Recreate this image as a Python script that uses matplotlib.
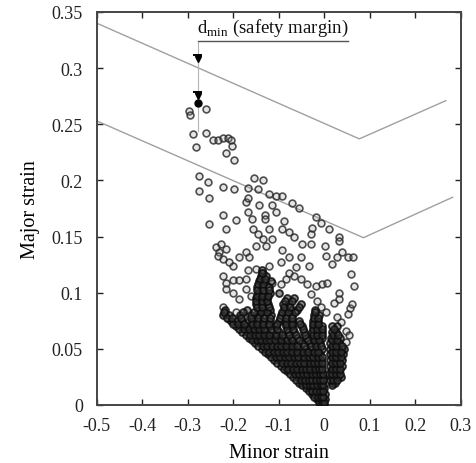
import matplotlib
matplotlib.use("Agg")
import matplotlib.pyplot as plt

plt.rcParams['font.family'] = ['Liberation Serif', 'DejaVu Serif']
plt.rcParams['mathtext.fontset'] = 'custom'
plt.rcParams['mathtext.rm'] = 'Liberation Serif'

# Forming limit curves (upper = FLC, lower = FLC with safety margin)
flc_upper_x = [-0.5, 0.077, 0.267]
flc_upper_y = [0.340, 0.237, 0.271]
flc_lower_x = [-0.5, 0.086, 0.282]
flc_lower_y = [0.253, 0.149, 0.185]

# Sparse strain points (minor, major)
sparse_x = [-0.298, -0.295, -0.260, -0.289, -0.261, -0.282, -0.245, -0.234, -0.223, -0.212,
            -0.205, -0.203, -0.215, -0.198, -0.275, -0.256, -0.275, -0.253, -0.223, -0.199,
            -0.253, -0.222, -0.217, -0.194, -0.173, -0.168, -0.168, -0.155, -0.135, -0.146,
            -0.122, -0.106, -0.092, -0.071, -0.055, -0.018, -0.007, 0.011, 0.033, 0.033,
            0.040, 0.051, 0.064, 0.059, 0.066, 0.057, 0.051, 0.060,
            -0.168, -0.159, -0.143, -0.131, -0.131, -0.114, -0.106, -0.088, -0.093, -0.077,
            -0.066, -0.048, -0.029, -0.026, -0.029, 0.002, 0.003, 0.029, 0.018,
            -0.157, -0.146, -0.135, -0.121, -0.114, -0.128, -0.150, -0.172, -0.165, -0.187,
            -0.201, -0.209, -0.231, -0.238, -0.227, -0.216, -0.234, -0.223,
            -0.092, -0.077, -0.095, -0.052, -0.034, -0.063, -0.077, -0.084, -0.095, -0.066,
            -0.052, -0.037, -0.018, -0.004, 0.007, -0.029, -0.015, -0.007, 0.003, 0.033,
            0.033, 0.022, 0.029, 0.037, 0.048, 0.055, 0.048, 0.040,
            -0.223, -0.216, -0.201, -0.187, -0.172, -0.168, -0.150, -0.135, -0.121, -0.114,
            -0.216, -0.172, -0.201, -0.187, -0.161, -0.143, -0.128,
            -0.223, -0.219, -0.209, -0.194, -0.179, -0.165, -0.150, -0.157, -0.143]
sparse_y = [0.262, 0.258, 0.264, 0.241, 0.242, 0.230, 0.236, 0.236, 0.238, 0.238,
            0.236, 0.231, 0.224, 0.218, 0.204, 0.199, 0.191, 0.184, 0.194, 0.192,
            0.161, 0.169, 0.157, 0.165, 0.181, 0.184, 0.193, 0.202, 0.200, 0.192,
            0.188, 0.186, 0.186, 0.180, 0.175, 0.167, 0.162, 0.157, 0.150, 0.146,
            0.136, 0.132, 0.132, 0.117, 0.106, 0.086, 0.081, 0.090,
            0.172, 0.166, 0.178, 0.169, 0.166, 0.178, 0.172, 0.164, 0.157, 0.154,
            0.150, 0.143, 0.152, 0.158, 0.143, 0.142, 0.133, 0.132, 0.126,
            0.157, 0.152, 0.148, 0.157, 0.148, 0.142, 0.142, 0.136, 0.132, 0.132,
            0.124, 0.127, 0.136, 0.141, 0.143, 0.139, 0.133, 0.130,
            0.138, 0.132, 0.127, 0.132, 0.124, 0.123, 0.118, 0.112, 0.108, 0.115,
            0.112, 0.108, 0.106, 0.108, 0.109, 0.099, 0.093, 0.087, 0.083, 0.100,
            0.094, 0.091, 0.078, 0.074, 0.066, 0.062, 0.056, 0.050,
            0.115, 0.109, 0.111, 0.111, 0.112, 0.120, 0.121, 0.118, 0.124, 0.109,
            0.103, 0.103, 0.100, 0.094, 0.097, 0.100, 0.094,
            0.087, 0.081, 0.077, 0.083, 0.078, 0.074, 0.069, 0.077, 0.081]

# Dense cloud near the origin, read row by row (major strain level -> minor strains)
dense_levels = [0.000, 0.005, 0.010, 0.015, 0.020, 0.025, 0.030, 0.035, 0.040, 0.045,
                0.050, 0.055, 0.060, 0.065, 0.070, 0.075, 0.080, 0.085, 0.090, 0.095,
                0.100, 0.105, 0.110, 0.115, 0.120]
dense_minor = [
    [-0.010, -0.004, 0.0],
    [-0.016, -0.010, -0.004, 0.002],
    [-0.028, -0.020, -0.012, -0.005, 0.002],
    [-0.040, -0.032, -0.024, -0.016, -0.008, 0.0],
    [-0.055, -0.046, -0.038, -0.030, -0.022, -0.014, -0.006, 0.016, 0.024],
    [-0.068, -0.058, -0.049, -0.040, -0.031, -0.022, -0.014, -0.006, 0.014, 0.022, 0.030, 0.036],
    [-0.082, -0.072, -0.062, -0.052, -0.043, -0.034, -0.025, -0.016, -0.008, 0.014, 0.022, 0.032],
    [-0.096, -0.086, -0.076, -0.066, -0.056, -0.047, -0.036, -0.026, -0.017, -0.008, 0.012, 0.021, 0.030, 0.038],
    [-0.110, -0.100, -0.090, -0.080, -0.070, -0.060, -0.050, -0.038, -0.028, -0.018, -0.008, 0.012, 0.021, 0.030, 0.040],
    [-0.124, -0.114, -0.104, -0.094, -0.084, -0.074, -0.064, -0.052, -0.040, -0.030, -0.020, -0.010, 0.012, 0.020, 0.030, 0.042],
    [-0.138, -0.128, -0.118, -0.108, -0.098, -0.088, -0.078, -0.066, -0.054, -0.040, -0.026, -0.016, -0.006, 0.012, 0.020, 0.031, 0.043],
    [-0.152, -0.142, -0.132, -0.122, -0.112, -0.102, -0.090, -0.078, -0.066, -0.050, -0.032, -0.020, -0.010, 0.013, 0.022, 0.033],
    [-0.166, -0.156, -0.146, -0.136, -0.126, -0.114, -0.100, -0.088, -0.074, -0.060, -0.040, -0.024, -0.014, -0.004, 0.014, 0.024, 0.035],
    [-0.180, -0.170, -0.160, -0.150, -0.140, -0.128, -0.114, -0.100, -0.080, -0.066, -0.044, -0.026, -0.016, -0.006, 0.016, 0.026],
    [-0.194, -0.184, -0.172, -0.160, -0.148, -0.136, -0.122, -0.106, -0.084, -0.070, -0.050, -0.024, -0.014, -0.004, 0.018, 0.028],
    [-0.206, -0.194, -0.180, -0.160, -0.146, -0.134, -0.120, -0.100, -0.086, -0.072, -0.056, -0.024, -0.014],
    [-0.222, -0.210, -0.186, -0.162, -0.144, -0.132, -0.118, -0.096, -0.084, -0.070, -0.022, -0.012],
    [-0.218, -0.170, -0.146, -0.134, -0.120, -0.088, -0.074, -0.060, -0.020],
    [-0.150, -0.138, -0.124, -0.090, -0.078, -0.052],
    [-0.150, -0.138, -0.126, -0.082, -0.066],
    [-0.146, -0.134, -0.120, -0.100],
    [-0.148, -0.136, -0.122],
    [-0.144, -0.132, -0.118],
    [-0.140, -0.128],
    [-0.136],
]
# In-between rows of the dense cloud
dense_levels_mid = [0.0025, 0.0075, 0.0125, 0.0175, 0.0225, 0.0275, 0.0325, 0.0375, 0.0425,
                    0.0475, 0.0525, 0.0575, 0.0625, 0.0675, 0.0725, 0.0775, 0.0825, 0.0875,
                    0.0925, 0.0975, 0.1025, 0.1075, 0.1125, 0.1175]
dense_minor_mid = [
    [-0.012, -0.006, 0.0],
    [-0.022, -0.014, -0.008, -0.002],
    [-0.034, -0.026, -0.018, -0.010, -0.003],
    [-0.048, -0.040, -0.032, -0.024, -0.016, -0.008, -0.002, 0.018],
    [-0.062, -0.052, -0.043, -0.034, -0.026, -0.018, -0.010, -0.003, 0.012, 0.020, 0.028],
    [-0.075, -0.065, -0.056, -0.046, -0.037, -0.028, -0.019, -0.010, -0.003, 0.010, 0.018, 0.026, 0.034],
    [-0.089, -0.079, -0.069, -0.059, -0.050, -0.041, -0.031, -0.021, -0.012, -0.004, 0.016, 0.026, 0.035],
    [-0.103, -0.093, -0.083, -0.073, -0.063, -0.054, -0.044, -0.032, -0.022, -0.013, -0.004, 0.016, 0.025, 0.035],
    [-0.117, -0.107, -0.097, -0.087, -0.077, -0.067, -0.057, -0.045, -0.034, -0.024, -0.014, -0.004, 0.016, 0.025, 0.036],
    [-0.131, -0.121, -0.111, -0.101, -0.091, -0.081, -0.071, -0.059, -0.047, -0.035, -0.023, -0.013, 0.016, 0.025, 0.037],
    [-0.145, -0.135, -0.125, -0.115, -0.105, -0.095, -0.084, -0.072, -0.060, -0.045, -0.029, -0.018, -0.008, 0.016, 0.026, 0.038],
    [-0.159, -0.149, -0.139, -0.129, -0.119, -0.108, -0.095, -0.083, -0.070, -0.055, -0.036, -0.022, -0.012, 0.018, 0.028],
    [-0.173, -0.163, -0.153, -0.143, -0.133, -0.121, -0.107, -0.094, -0.077, -0.063, -0.042, -0.025, -0.015, -0.005, 0.019, 0.030],
    [-0.187, -0.177, -0.166, -0.155, -0.144, -0.132, -0.118, -0.103, -0.082, -0.068, -0.047, -0.025, -0.015, -0.005, 0.022],
    [-0.200, -0.189, -0.176, -0.160, -0.147, -0.135, -0.121, -0.103, -0.085, -0.071, -0.053, -0.024, -0.014],
    [-0.214, -0.202, -0.183, -0.161, -0.145, -0.133, -0.119, -0.098, -0.085, -0.071, -0.023, -0.013],
    [-0.220, -0.178, -0.154, -0.139, -0.126, -0.092, -0.079, -0.065, -0.021],
    [-0.148, -0.136, -0.122, -0.089, -0.076, -0.056],
    [-0.150, -0.138, -0.125, -0.086, -0.072],
    [-0.148, -0.136, -0.123],
    [-0.147, -0.135, -0.121],
    [-0.146, -0.134],
    [-0.142, -0.130],
    [-0.138],
]

# Safety margin annotation
dmin_x = -0.278
dmin_top_y = 0.312
dmin_bot_y = 0.279
dmin_text = "d$_{\\mathrm{min}}$ (safety margin)"

x_ticks = [-0.5, -0.4, -0.3, -0.2, -0.1, 0.0, 0.1, 0.2, 0.3]
x_labels = ["-0.5", "-0.4", "-0.3", "-0.2", "-0.1", "0", "0.1", "0.2", "0.3"]
y_ticks = [0, 0.05, 0.1, 0.15, 0.2, 0.25, 0.3, 0.35]
y_labels = ["0", "0.05", "0.1", "0.15", "0.2", "0.25", "0.3", "0.35"]

dx, dy = [], []
for lvl, row in zip(dense_levels + dense_levels_mid, dense_minor + dense_minor_mid):
    dx.extend(row)
    dy.extend([lvl] * len(row))

fig = plt.figure(figsize=(4.77, 4.64), dpi=100)
ax = fig.add_axes([0.203, 0.125, 0.763, 0.847])

ax.plot(flc_upper_x, flc_upper_y, color='#a0a0a0', lw=1.0)
ax.plot(flc_lower_x, flc_lower_y, color='#a0a0a0', lw=1.0)

ax.scatter(sparse_x, sparse_y, s=24, facecolors=(0.6, 0.6, 0.6, 0.25),
           edgecolors=(0.15, 0.15, 0.15, 0.8), linewidths=1.2, zorder=3)
ax.scatter(dx, dy, s=24, facecolors=(0.25, 0.25, 0.25, 0.55),
           edgecolors=(0.05, 0.05, 0.05, 0.85), linewidths=1.4, zorder=3)

# annotation lines
ax.plot([dmin_x, dmin_x], [0.323, 0.244], color='#b5b5b5', lw=0.8, zorder=2)
ax.plot([dmin_x, 0.053], [0.324, 0.324], color='#555555', lw=1.0)
ax.text(dmin_x - 0.002, 0.327, dmin_text, fontsize=13.5, ha='left', va='bottom', color='#111111')
# distance markers
ax.plot([dmin_x - 0.008, dmin_x + 0.008], [dmin_top_y, dmin_top_y], color='black', lw=1.4, zorder=4)
ax.plot([dmin_x], [dmin_top_y - 0.004], marker='v', color='black', ms=5, zorder=4)
ax.plot([dmin_x - 0.008, dmin_x + 0.008], [dmin_bot_y, dmin_bot_y], color='black', lw=1.4, zorder=4)
ax.plot([dmin_x], [dmin_bot_y - 0.004], marker='v', color='black', ms=5, zorder=4)
ax.plot([dmin_x], [0.269], marker='o', color='black', ms=5, zorder=4)

ax.set_xlim(-0.5, 0.3)
ax.set_ylim(0, 0.35)
ax.set_xticks(x_ticks)
ax.set_xticklabels(x_labels)
ax.set_yticks(y_ticks)
ax.set_yticklabels(y_labels)
ax.tick_params(direction='in', length=4, width=1, top=True, right=True,
               labelsize=13, colors='#222222')
ax.tick_params(axis='y', pad=10)
ax.tick_params(axis='x', pad=9)
for sp in ax.spines.values():
    sp.set_linewidth(1.4)
    sp.set_color('#444444')

ax.set_xlabel("Minor strain", fontsize=14.5, labelpad=6)
ax.set_ylabel("Major strain", fontsize=14.5, labelpad=8)

fig.savefig("out.png", dpi=100)
